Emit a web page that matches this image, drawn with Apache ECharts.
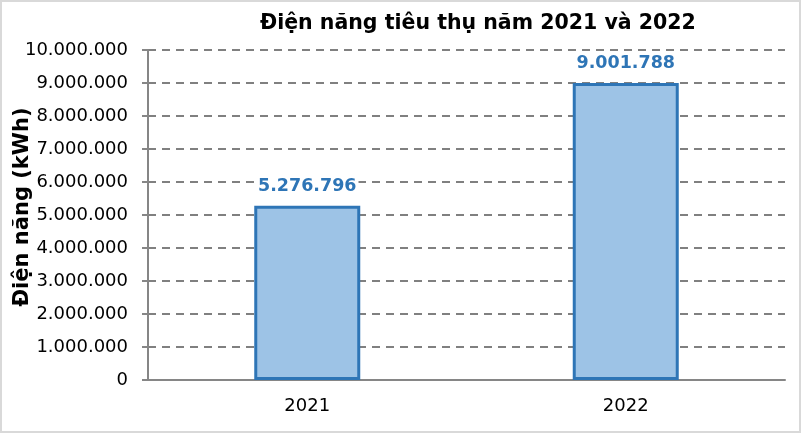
<!DOCTYPE html>
<html><head><meta charset="utf-8">
<script src="https://cdn.jsdelivr.net/npm/echarts@6/dist/echarts.min.js"></script>
<style>html,body{margin:0;padding:0;background:#fff}#c{width:801px;height:433px}</style>
</head><body><div id="c"></div>
<script>
const titleText = 'Điện năng tiêu thụ năm 2021 và 2022';
const yAxisName = 'Điện năng (kWh)';
const categories = ['2021', '2022'];
const values = [5276796, 9001788];
const yMin = 0, yMax = 10000000, yInterval = 1000000;

function fmt(v) { return String(Math.round(v)).replace(/\B(?=(\d{3})+(?!\d))/g, '.'); }

const chart = echarts.init(document.getElementById('c'), null, {renderer: 'canvas'});
const font = 'DejaVu Sans';
chart.setOption({
  animation: false,
  backgroundColor: '#fff',
  title: {
    text: titleText, left: 255, top: 8,
    textStyle: {fontFamily: font, fontWeight: 'bold', fontSize: 20.5, color: '#000'}
  },
  graphic: [{type: 'rect', shape: {x: 1, y: 1, width: 799, height: 431},
    style: {fill: 'none', stroke: '#d9d9d9', lineWidth: 2}, silent: true}],
  grid: {left: 148, right: 16, top: 50, bottom: 53, containLabel: false, outerBoundsMode: 'none'},
  xAxis: {
    type: 'category', data: categories,
    axisLine: {lineStyle: {color: '#868686', width: 2}},
    axisTick: {show: false},
    axisLabel: {fontFamily: font, fontSize: 18, color: '#000', margin: 17}
  },
  yAxis: {
    type: 'value', min: yMin, max: yMax, interval: yInterval,
    name: yAxisName, nameLocation: 'middle', nameGap: 115, nameMoveOverlap: false,
    nameTextStyle: {fontFamily: font, fontWeight: 'bold', fontSize: 21, color: '#000', padding: [0, 0, 0, 16]},
    axisLine: {show: true, lineStyle: {color: '#868686', width: 2}},
    axisTick: {show: true, length: 6, lineStyle: {color: '#868686', width: 2}},
    axisLabel: {fontFamily: font, fontSize: 18, color: '#000', margin: 20, formatter: fmt},
    splitLine: {lineStyle: {color: '#808080', width: 2, type: [8, 6]}}
  },
  series: [{
    type: 'bar', data: values, barWidth: 106,
    itemStyle: {color: '#9dc3e6', borderColor: '#2e75b6', borderWidth: 3},
    label: {show: true, position: 'top', distance: 10, formatter: p => fmt(p.value),
      fontFamily: font, fontWeight: 'bold', fontSize: 17.5, color: '#2e75b6',
      backgroundColor: '#fff', padding: [1, 2, 0, 2]}
  }]
});
</script></body></html>
